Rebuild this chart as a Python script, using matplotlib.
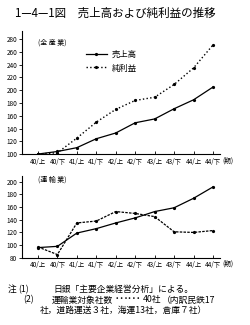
import matplotlib.pyplot as plt

plt.rcParams['font.family'] = ['Noto Sans CJK JP', 'DejaVu Sans']

periods = ['40/上', '40/下', '41/上', '41/下', '42/上', '42/下', '43/上', '43/下', '44/上', '44/下']

# 全産業
all_sales = [100, 104, 110, 124, 133, 149, 155, 171, 185, 205]
all_profit = [100, 102, 125, 150, 170, 184, 189, 209, 235, 271]

# 運輸業
trans_sales = [96, 98, 119, 126, 135, 143, 153, 159, 174, 192]
trans_profit = [97, 85, 135, 138, 153, 150, 145, 121, 120, 123]

x = list(range(len(periods)))

fig = plt.figure(figsize=(2.51, 3.25), dpi=100)
fig.patch.set_facecolor('white')

ax1 = fig.add_axes([0.0876, 0.526, 0.789, 0.379])
ax2 = fig.add_axes([0.0876, 0.207, 0.789, 0.251])

def style(ax, ylim, yticks):
    ax.set_xlim(-0.82, 9.36)
    ax.set_ylim(*ylim)
    ax.set_yticks(yticks)
    ax.set_xticks(x)
    ax.set_xticklabels(periods)
    for s in ['top', 'right']:
        ax.spines[s].set_visible(False)
    for s in ['left', 'bottom']:
        ax.spines[s].set_linewidth(0.8)
    ax.tick_params(axis='both', labelsize=4.6, length=2, width=0.6, pad=1.5)
    ax.tick_params(axis='x', direction='in', pad=2.5)
    ax.text(1.01, -0.02, '(期)', transform=ax.transAxes, fontsize=4.8,
            va='top', ha='left')

ax1.plot(x, all_sales, '-', color='black', lw=0.9, marker='o', ms=1.3, label='売上高')
ax1.plot(x, all_profit, ':', color='black', lw=1.0, marker='o', ms=1.3, label='純利益')
style(ax1, (100, 293), range(100, 281, 20))
ax1.text(0.08, 0.94, '(全 産 業)', transform=ax1.transAxes, fontsize=5, va='top')
ax1.legend(loc='upper left', bbox_to_anchor=(0.30, 0.88), frameon=False, fontsize=6,
           handlelength=2.6, handletextpad=0.5, labelspacing=0.55, borderpad=0)

ax2.plot(x, trans_sales, '-', color='black', lw=0.9, marker='o', ms=1.3)
ax2.plot(x, trans_profit, '--', color='black', lw=0.9, marker='o', ms=1.3, dashes=(2, 1))
style(ax2, (80, 209), range(80, 201, 20))
ax2.text(0.08, 1.01, '(運 輸 業)', transform=ax2.transAxes, fontsize=5, va='top')

fig.text(0.06, 0.96, '1—4—1図　売上高および純利益の推移', fontsize=8.3, va='center')

fig.text(0.032, 0.11, '注', fontsize=6.3, va='center')
fig.text(0.072, 0.11, '(1)', fontsize=6.3, va='center')
fig.text(0.211, 0.11, '日銀「主要企業経営分析」による。', fontsize=6.3, va='center')
fig.text(0.092, 0.077, '(2)', fontsize=6.3, va='center')
fig.text(0.207, 0.077, '運輸業対象社数', fontsize=6.3, va='center')
fig.text(0.455, 0.077, '……', fontsize=9.5, va='center')
fig.text(0.57, 0.077, '40社', fontsize=6.3, va='center')
fig.text(0.645, 0.077, '（内訳民鉄17', fontsize=6.3, va='center')
fig.text(0.16, 0.045, '社，道路運送３社，海運13社，倉庫７社）', fontsize=6.3, va='center')

fig.savefig('out.png', dpi=100)
